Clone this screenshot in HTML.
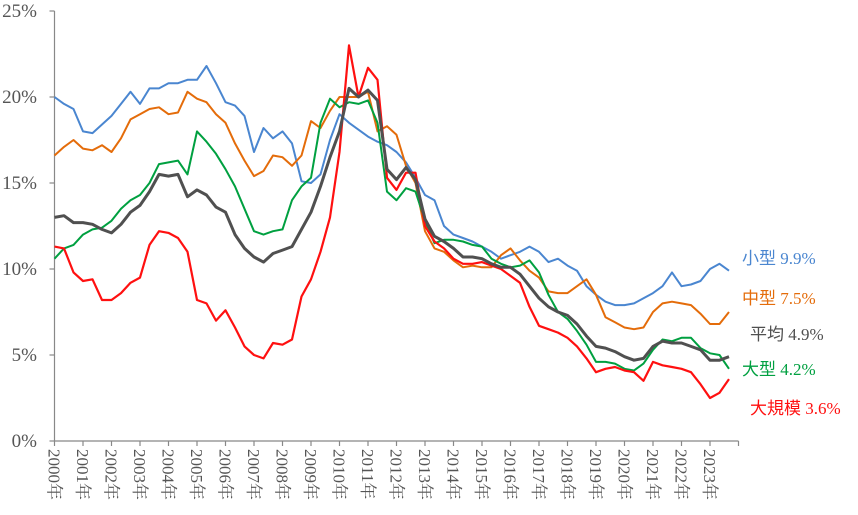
<!DOCTYPE html>
<html><head><meta charset="utf-8"><style>
html,body{margin:0;padding:0;background:#fff;}
svg{display:block;}
</style></head><body>
<svg id="chart" width="858" height="515" viewBox="0 0 858 515" xmlns="http://www.w3.org/2000/svg"></svg>
<script>
const yTicks = [0, 5, 10, 15, 20, 25];
const yearLabels = ["2000年","2001年","2002年","2003年","2004年","2005年","2006年","2007年","2008年","2009年","2010年","2011年","2012年","2013年","2014年","2015年","2016年","2017年","2018年","2019年","2020年","2021年","2022年","2023年"];
const startYear = 2000;
const stepYears = 1/3;
const small = [20.0,19.6,19.3,18.0,17.9,18.4,18.9,19.6,20.3,19.6,20.5,20.5,20.8,20.8,21.0,21.0,21.8,20.8,19.7,19.5,18.9,16.8,18.2,17.6,18.0,17.3,15.1,15.0,15.5,17.5,19.0,18.5,18.1,17.7,17.4,17.2,16.8,16.2,15.3,14.3,14.0,12.5,12.0,11.8,11.6,11.3,11.0,10.6,10.8,11.0,11.3,11.0,10.4,10.6,10.2,9.9,9.0,8.5,8.1,7.9,7.9,8.0,8.3,8.6,9.0,9.8,9.0,9.1,9.3,10.0,10.3,9.9];
const medium = [16.6,17.1,17.5,17.0,16.9,17.2,16.8,17.6,18.7,19.0,19.3,19.4,19.0,19.1,20.3,19.9,19.7,19.0,18.5,17.3,16.3,15.4,15.7,16.6,16.5,16.0,16.6,18.6,18.2,19.2,20.0,20.0,20.0,20.3,18.0,18.3,17.8,16.0,15.0,12.2,11.2,11.0,10.5,10.1,10.2,10.1,10.1,10.8,11.2,10.5,9.9,9.5,8.7,8.6,8.6,9.0,9.4,8.5,7.2,6.9,6.6,6.5,6.6,7.5,8.0,8.1,8.0,7.9,7.4,6.8,6.8,7.5];
const average = [13.0,13.1,12.7,12.7,12.6,12.3,12.1,12.6,13.3,13.7,14.5,15.5,15.4,15.5,14.2,14.6,14.3,13.6,13.3,12.0,11.2,10.7,10.4,10.9,11.1,11.3,12.3,13.3,14.8,16.5,18.0,20.5,20.0,20.4,19.8,15.8,15.2,15.9,15.2,12.9,11.9,11.6,11.2,10.7,10.7,10.6,10.3,10.1,10.1,9.7,9.0,8.3,7.8,7.5,7.3,6.8,6.1,5.5,5.4,5.2,4.9,4.7,4.8,5.5,5.8,5.7,5.7,5.5,5.3,4.7,4.7,4.9];
const large = [10.6,11.2,11.4,12.0,12.3,12.4,12.8,13.5,14.0,14.3,15.0,16.1,16.2,16.3,15.5,18.0,17.4,16.7,15.8,14.8,13.5,12.2,12.0,12.2,12.3,14.0,14.8,15.3,18.5,19.9,19.4,19.7,19.6,19.8,18.5,14.5,14.0,14.7,14.5,12.8,11.5,11.7,11.7,11.6,11.4,11.3,10.6,10.3,10.1,10.2,10.5,9.8,8.5,7.5,7.1,6.4,5.6,4.6,4.6,4.5,4.2,4.1,4.5,5.3,5.9,5.8,6.0,6.0,5.4,5.1,5.0,4.2];
const xlarge = [11.3,11.2,9.8,9.3,9.4,8.2,8.2,8.6,9.2,9.5,11.4,12.2,12.1,11.8,11.0,8.2,8.0,7.0,7.6,6.6,5.5,5.0,4.8,5.7,5.6,5.9,8.4,9.4,11.0,13.0,16.8,23.0,20.0,21.7,21.0,15.3,14.6,15.6,15.6,12.5,11.6,11.2,10.6,10.3,10.3,10.4,10.2,10.0,9.6,9.2,7.8,6.7,6.5,6.3,6.0,5.5,4.8,4.0,4.2,4.3,4.1,4.0,3.5,4.6,4.4,4.3,4.2,4.0,3.3,2.5,2.8,3.6];
const seriesNames = ["small","medium","average","large","xlarge"];
const seriesLabels = ["小型 9.9%","中型 7.5%","平均 4.9%","大型 4.2%","大規模 3.6%"];

const NS = "http://www.w3.org/2000/svg";
const svg = document.getElementById("chart");
const x0 = 54.5, yearW = 28.5, yBase = 441, perUnit = 17.2;
function xScale(t){ return x0 + (t - startYear) * yearW; }
function yScale(v){ return yBase - v * perUnit; }
function mk(tag, attrs){ const e = document.createElementNS(NS, tag); for (const k in attrs) e.setAttribute(k, attrs[k]); svg.appendChild(e); return e; }

const yAxis = mk("line", {x1:x0, y1:yScale(25), x2:x0, y2:yBase, stroke:"#888", "stroke-width":1.2});


const xAxis = mk("line", {x1:x0, y1:yBase, x2:xScale(2024), y2:yBase, stroke:"#888", "stroke-width":1.2});



yTicks.forEach(v => {
  const tk = mk("line", {x1:x0-5, y1:yScale(v), x2:x0, y2:yScale(v), stroke:"#888", "stroke-width":1.2});
  
  
  const tx = mk("text", {x:37, y:yScale(v)+6, "text-anchor":"end", "font-family":"Liberation Serif, serif", "font-size":"19", fill:"#555"});
  tx.textContent = v + "%";
  
  
});

for (let i = 0; i <= yearLabels.length; i++) {
  const xx = xScale(startYear + i);
  const tk = mk("line", {x1:xx, y1:yBase, x2:xx, y2:yBase+5, stroke:"#888", "stroke-width":1.2});
  
  
  if (i < yearLabels.length) {
    const tx = mk("text", {x:0, y:0, transform:"translate(" + (xx-6) + "," + (yBase+8) + ") rotate(90)", "font-family":"Liberation Serif, Noto Serif CJK SC, serif", "font-size":"17", fill:"#555"});
    tx.textContent = yearLabels[i];
    
    
  }
}

const dataSets = [small, medium, average, large, xlarge];
const colors = ["#4a86d0","#e46c0a","#505050","#00a040","#ff1010"];
const widths = [2, 2, 3, 2, 2.2];
const drawOrder = [0,1,3,4,2];
drawOrder.forEach(k => {
  const d = dataSets[k].map((v,i) => (i ? "L" : "M") + xScale(startYear + i*stepYears).toFixed(1) + "," + yScale(v).toFixed(1)).join(" ");
  const p = mk("path", {d:d, fill:"none", stroke:colors[k], "stroke-width":widths[k], "stroke-linejoin":"round"});
  
  
});

const labelPos = [[742,264],[742,304],[750,340],[742,375],[750,414]];
seriesLabels.forEach((s,k) => {
  const t = mk("text", {x:labelPos[k][0], y:labelPos[k][1], "font-family":"Liberation Serif, Noto Sans CJK JP, serif", "font-size":"17", fill:colors[k]});
  t.textContent = s;
  
  
});
</script>
</body></html>
